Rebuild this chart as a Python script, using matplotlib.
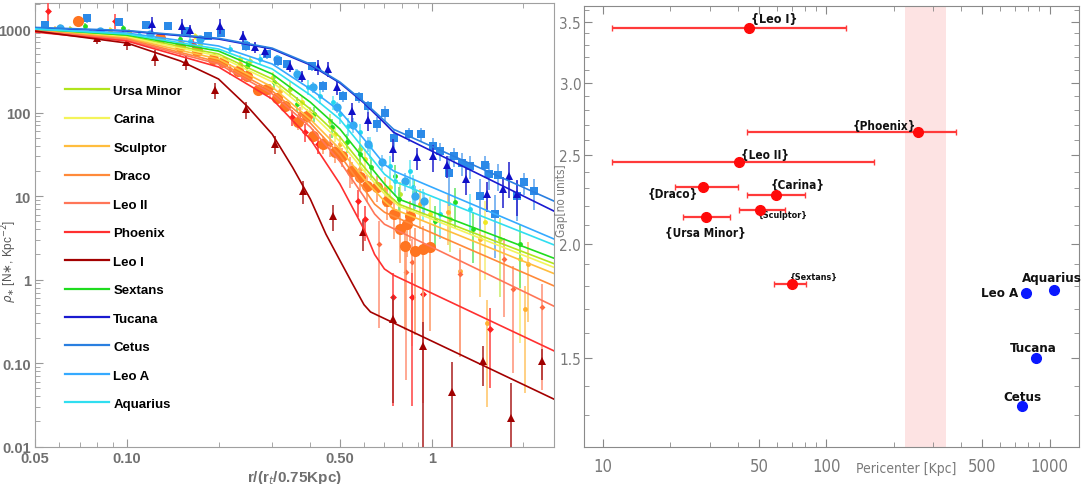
import numpy as np
import matplotlib
matplotlib.use('Agg')
import matplotlib.pyplot as plt
from matplotlib.ticker import FixedLocator, FixedFormatter, NullFormatter

# ---- left panel: surface density profiles ----
galaxies = ['Ursa Minor', 'Carina', 'Sculptor', 'Draco', 'Leo II', 'Phoenix',
            'Leo I', 'Sextans', 'Tucana', 'Cetus', 'Leo A', 'Aquarius']

ursa_r = [0.0652, 0.102, 0.174, 0.2535, 0.343, 0.4634, 0.581, 0.787, 1.148, 1.674]
ursa_rho = [1000, 920, 661, 414, 191, 79, 36.6, 10.6, 5.3, 3.06]
ursa_e = [0.1, 0.1, 0.12, 0.15, 0.2, 0.2, 0.3, 0.4, 0.6, 0.8]

carina_r = [0.0604, 0.0881, 0.1674, 0.235, 0.301, 0.375, 0.4816, 0.604, 0.73, 0.986, 1.494, 1.945]
carina_rho = [1057, 973, 824, 437, 266, 133, 55.3, 27.8, 12.9, 6.1, 4.9, 1.76]
carina_e = [0.1, 0.1, 0.1, 0.12, 0.15, 0.2, 0.2, 0.3, 0.4, 0.6, 0.8, 0.9]

sculptor_r = [0.0582, 0.0817, 0.1285, 0.174, 0.235, 0.318, 0.399, 0.5, 0.581, 0.703, 0.914,
              1.13, 1.236, 1.438, 1.517, 2.02, 2.07]
sculptor_rho = [1000, 920, 759, 576, 381, 181, 96, 42, 21.1, 12.2, 8.0, 6.4, 1.27, 3.06, 0.30, 0.44, 1.55]
sculptor_e = [0.1, 0.1, 0.1, 0.12, 0.12, 0.15, 0.2, 0.25, 0.3, 0.4, 0.5, 0.6, 0.9, 0.8, 0.9, 0.9, 0.8]

draco_r = [0.0692, 0.1285, 0.1494, 0.170, 0.1917, 0.2065, 0.2315, 0.248, 0.269, 0.288, 0.311,
           0.330, 0.364, 0.390, 0.408, 0.44, 0.4816, 0.508, 0.547, 0.581, 0.613, 0.661, 0.713,
           0.752, 0.787, 0.830, 0.848, 0.817, 0.881, 0.935, 0.986]
draco_rho = [1247, 780, 625, 545, 437, 403, 314, 274, 186, 191, 149, 120, 77, 91, 52.4, 42, 33.6,
             30.1, 19.9, 16.9, 13.2, 12.9, 8.7, 6.1, 4.0, 4.6, 5.8, 2.5, 2.2, 2.3, 2.45]
draco_e = [0.08, 0.1, 0.1, 0.1, 0.1, 0.1, 0.12, 0.12, 0.12, 0.12, 0.15, 0.15, 0.2, 0.2, 0.2, 0.25,
           0.25, 0.25, 0.3, 0.3, 0.35, 0.35, 0.4, 0.5, 0.6, 0.6, 0.5, 0.9, 0.9, 0.9, 0.9]

leo2_r = [0.0604, 0.102, 0.1494, 0.218, 0.2948, 0.370, 0.4634, 0.540, 0.671, 0.822, 0.861, 1.236,
          1.725, 1.846, 2.30]
leo2_rho = [946, 759, 545, 332, 181, 96, 42, 21.1, 2.66, 1.24, 1.62, 1.18, 1.76, 0.77, 0.47]
leo2_e = [0.1, 0.1, 0.12, 0.15, 0.2, 0.2, 0.3, 0.4, 0.9, 0.95, 0.9, 0.9, 0.8, 0.9, 0.9]

phoenix_r = [0.0552, 0.0914, 0.165, 0.2385, 0.348, 0.384, 0.424, 0.573, 0.604, 0.746, 0.861, 0.935, 1.552]
phoenix_rho = [1643, 1247, 661, 305, 88, 58.6, 42, 8.7, 5.3, 0.62, 0.62, 0.67, 0.255]
phoenix_e = [0.25, 0.2, 0.15, 0.2, 0.22, 0.25, 0.25, 0.35, 0.45, 0.95, 0.95, 0.95, 0.8]

leo1_r = [0.0796, 0.1, 0.1236, 0.156, 0.1944, 0.246, 0.306, 0.379, 0.474, 0.594, 0.747, 0.935,
          1.17, 1.47, 1.82, 2.3]
leo1_rho = [780, 698, 462, 402, 186, 110, 42, 11.5, 5.8, 3.7, 0.336, 0.16, 0.045, 0.106, 0.022, 0.106]
leo1_e = [0.15, 0.19, 0.22, 0.2, 0.22, 0.23, 0.24, 0.3, 0.35, 0.4, 0.9, 0.95, 1.3, 0.5, 1.6, 0.4]

sextans_r = [0.073, 0.0972, 0.1494, 0.248, 0.304, 0.361, 0.411, 0.471, 0.527, 0.581, 0.632, 0.757,
             0.78, 0.874, 1.024, 1.19, 1.365, 1.945]
sextans_rho = [1086, 1028, 759, 361, 232, 127, 96, 67, 44.2, 31.8, 22.3, 17.4, 9.2, 11.2, 5.0, 8.4, 4.0, 2.66]
sextans_e = [0.1, 0.1, 0.12, 0.15, 0.2, 0.2, 0.2, 0.25, 0.25, 0.3, 0.3, 0.35, 0.4, 0.4, 0.5, 0.5, 0.6, 0.7]

tucana_r = [0.1209, 0.1517, 0.161, 0.202, 0.2405, 0.263, 0.284, 0.343, 0.375, 0.424, 0.457, 0.489,
            0.547, 0.618, 0.746, 0.893, 1.009, 1.122, 1.295, 1.517, 1.71, 1.79, 1.90]
tucana_rho = [1148, 1086, 973, 1086, 824, 608, 545, 361, 274, 351, 332, 202, 104, 81, 36.6, 29.3,
              30.1, 23.5, 16.0, 10.6, 12.1, 17.4, 10.6]
tucana_e = [0.2, 0.2, 0.15, 0.2, 0.15, 0.15, 0.15, 0.15, 0.15, 0.2, 0.2, 0.2, 0.25, 0.25, 0.3, 0.3,
            0.35, 0.3, 0.35, 0.4, 0.4, 0.45, 0.45]

cetus_r = [0.054, 0.074, 0.094, 0.116, 0.137, 0.155, 0.185, 0.204, 0.246, 0.288, 0.313, 0.335, 0.405,
           0.44, 0.512, 0.577, 0.618, 0.661, 0.703, 0.752, 0.841, 0.922, 1.009, 1.064, 1.183, 1.256,
           1.334, 1.138, 1.494, 1.54, 1.648, 1.438, 1.61, 1.90, 2.005, 2.163]
cetus_rho = [1116, 1354, 1213, 1116, 1086, 946, 824, 896, 625, 502, 414, 381, 361, 208, 158, 153, 120,
             73, 99, 50, 55, 55, 40, 35, 30, 25, 23, 19, 23.5, 18.3, 17.8, 10, 6.1, 10, 14.7, 11.5]
cetus_e = [0.1, 0.12, 0.1, 0.1, 0.1, 0.1, 0.1, 0.1, 0.12, 0.12, 0.12, 0.12, 0.12, 0.15, 0.15, 0.15,
           0.15, 0.2, 0.2, 0.25, 0.2, 0.2, 0.25, 0.25, 0.25, 0.3, 0.3, 0.6, 0.3, 0.35, 0.35, 0.6, 0.7,
           0.5, 0.3, 0.4]

leoa_r = [0.0604, 0.0817, 0.119, 0.174, 0.244, 0.311, 0.361, 0.408, 0.489, 0.551, 0.618, 0.687,
          0.817, 0.881, 0.942]
leoa_rho = [1028, 946, 871, 759, 661, 437, 289, 202, 116, 71, 42, 25.6, 15.2, 10.1, 8.7]
leoa_e = [0.1, 0.1, 0.1, 0.1, 0.12, 0.12, 0.15, 0.15, 0.15, 0.2, 0.2, 0.2, 0.25, 0.3, 0.3]

aquarius_r = [0.0757, 0.110, 0.161, 0.218, 0.273, 0.359, 0.393, 0.430, 0.474, 0.5, 0.531, 0.582,
              0.627, 0.730, 0.757, 0.848, 0.867, 0.935, 1.064, 1.334]
aquarius_rho = [920, 847, 719, 576, 437, 289, 202, 158, 133, 96, 69, 58.6, 39.7, 22.9, 15.2, 20,
                12.9, 8.7, 6.1, 7.0]
aquarius_e = [0.1, 0.1, 0.12, 0.12, 0.15, 0.15, 0.2, 0.2, 0.2, 0.25, 0.25, 0.25, 0.3, 0.3, 0.35,
              0.35, 0.4, 0.4, 0.5, 0.5]

# fitted profiles
fit_r = [0.05, 0.1, 0.2, 0.3, 0.4, 0.5, 0.6, 0.7, 0.75, 2.52]
fit_r_late = [0.05, 0.1, 0.2, 0.3, 0.4, 0.5, 0.6, 0.7, 0.78, 2.52]
fit_r_early = [0.05, 0.1, 0.2, 0.3, 0.4, 0.5, 0.6, 0.65, 0.7, 2.52]
phoenix_fit_r = [0.05, 0.1, 0.2, 0.3, 0.4, 0.5, 0.6, 0.65, 0.7, 0.75, 2.52]
leo1_fit_r = [0.05, 0.1, 0.15, 0.2, 0.25, 0.3, 0.35, 0.4, 0.45, 0.5, 0.55, 0.6, 0.63, 2.52]

ursa_fit = [1000, 825, 502, 252, 110, 51, 22.3, 11.5, 8.0, 1.55]
carina_fit = [973, 802, 475, 232, 99, 45, 20, 10.6, 7.6, 1.4]
sculptor_fit = [973, 780, 437, 202, 83, 36.6, 16, 8.7, 7.0, 1.18]
draco_fit = [946, 759, 403, 181, 75, 31, 12.2, 8.0, 6.4, 0.84]
leo2_fit = [946, 738, 381, 167, 67, 26, 9.8, 6.1, 4.6, 0.48]
phoenix_fit = [920, 719, 351, 145, 48, 14, 4.0, 2.0, 1.34, 1.13, 0.14]
leo1_fit = [946, 680, 414, 252, 116, 55, 22, 9.2, 3.5, 1.7, 0.89, 0.5, 0.41, 0.037]
sextans_fit = [1000, 847, 545, 289, 133, 63.6, 27.8, 14, 9.2, 1.8]
tucana_fit = [1028, 946, 759, 576, 371, 226, 130, 75, 58, 6.6]
cetus_fit = [1045, 960, 775, 590, 380, 232, 134, 80, 63, 8.7]
leoa_fit = [1000, 896, 626, 381, 191, 104, 48, 24, 20, 3.06]
aquarius_fit = [1000, 871, 576, 332, 162, 83, 36.6, 18.3, 15.1, 2.6]

# ---- right panel: gap vs pericenter ----
sat_names = ['{Leo I}', '{Phoenix}', '{Leo II}', '{Draco}', '{Carina}', '{Sculptor}',
             '{Ursa Minor}', '{Sextans}']
sat_peri = [45, 257, 40.6, 27.9, 59.6, 50.4, 28.8, 70.3]
sat_peri_lo = [11, 44, 11, 20.9, 44, 40.6, 22.9, 58]
sat_peri_hi = [123, 381, 163, 40, 80, 65.3, 37, 81]
sat_gap = [3.44, 2.65, 2.46, 2.31, 2.26, 2.18, 2.14, 1.81]

iso_names = ['Leo A', 'Aquarius', 'Tucana', 'Cetus']
iso_peri = [780, 1042, 865, 755]
iso_gap = [1.77, 1.78, 1.50, 1.33]

band_lo = 225
band_hi = 345

colors = {'Ursa Minor': '#b0e41c', 'Carina': '#f4f45a', 'Sculptor': '#ffbd3e', 'Draco': '#ff8a3a',
          'Leo II': '#ff7658', 'Phoenix': '#ff3030', 'Leo I': '#a30000', 'Sextans': '#1fdc1f',
          'Tucana': '#1a1ad0', 'Cetus': '#2a7fe0', 'Leo A': '#35aaff', 'Aquarius': '#30def0'}

GREY = '#707070'


def err_bars(rho, e):
    rho = np.array(rho)
    e = np.array(e)
    hi = rho * e
    lo = np.minimum(rho * e, rho * (1 - 1 / 25.))
    return [lo, hi]


def draw_points(ax, r, rho, e, color, marker, ms, ecolor, z):
    ax.errorbar(r, rho, yerr=err_bars(rho, e), fmt=marker, color=color, ms=ms, mew=0,
                ecolor=ecolor, elinewidth=1.2, capsize=1.5, capthick=0.8, zorder=z)


def left_panel(ax):
    pts = [
        (ursa_r, ursa_rho, ursa_e, '#b8e830', 'o', 3.5, '#cdee70'),
        (carina_r, carina_rho, carina_e, '#f0e820', 'o', 3.5, '#f6ef80'),
        (sculptor_r, sculptor_rho, sculptor_e, '#ffb030', 'o', 3.5, '#ffc870'),
        (sextans_r, sextans_rho, sextans_e, '#22dd22', 'o', 3.5, '#70e870'),
        (leo2_r, leo2_rho, leo2_e, '#ff6a40', 'D', 3, '#ff9a80'),
        (phoenix_r, phoenix_rho, phoenix_e, '#ff2020', 'D', 3.5, '#ff5050'),
        (aquarius_r, aquarius_rho, aquarius_e, '#22d8ee', 'o', 3.5, '#70e8f4'),
        (leoa_r, leoa_rho, leoa_e, '#33aaf0', 'o', 6, '#80c8f8'),
        (cetus_r, cetus_rho, cetus_e, '#2b8ae8', 's', 6, '#6aaaf0'),
        (tucana_r, tucana_rho, tucana_e, '#1010c8', '^', 6, '#3030d0'),
        (draco_r, draco_rho, draco_e, '#ff7420', 'o', 8, '#ffa070'),
        (leo1_r, leo1_rho, leo1_e, '#a00000', '^', 6, '#b03030'),
    ]
    z = 2
    for r, rho, e, c, m, ms, ec in pts:
        draw_points(ax, r, rho, e, c, m, ms, ec, z)
        z += 0.1

    fits = {'Ursa Minor': (fit_r_late, ursa_fit), 'Carina': (fit_r_late, carina_fit),
            'Sculptor': (fit_r, sculptor_fit), 'Draco': (fit_r_early, draco_fit),
            'Leo II': (fit_r_early, leo2_fit), 'Phoenix': (phoenix_fit_r, phoenix_fit),
            'Leo I': (leo1_fit_r, leo1_fit), 'Sextans': (fit_r_late, sextans_fit),
            'Tucana': (fit_r, tucana_fit), 'Cetus': (fit_r, cetus_fit),
            'Leo A': (fit_r, leoa_fit), 'Aquarius': (fit_r, aquarius_fit)}
    handles = []
    for g in galaxies:
        fr, fy = fits[g]
        ln, = ax.plot(fr, fy, color=colors[g], lw=1.2, zorder=4, label=g)
        handles.append(ln)

    leg = ax.legend(handles=handles, loc='upper left', bbox_to_anchor=(0.058, 0.816),
                    frameon=False, borderpad=0, borderaxespad=0, handlelength=3.3,
                    handletextpad=0.35, labelspacing=1.23,
                    prop={'family': 'Liberation Sans', 'weight': 'bold', 'size': 9.5})
    for ln in leg.get_lines():
        ln.set_linewidth(1.6)

    ax.set_xscale('log')
    ax.set_yscale('log')
    ax.set_xlim(0.05, 2.52)
    ax.set_ylim(0.0099, 2050)
    ax.xaxis.set_major_locator(FixedLocator([0.05, 0.1, 0.5, 1]))
    ax.xaxis.set_major_formatter(FixedFormatter(['0.05', '0.10', '0.50', '1']))
    ax.xaxis.set_minor_locator(FixedLocator([0.06, 0.07, 0.08, 0.09, 0.2, 0.3, 0.4, 0.6, 0.7,
                                             0.8, 0.9, 2]))
    ax.xaxis.set_minor_formatter(NullFormatter())
    ax.yaxis.set_major_locator(FixedLocator([0.01, 0.1, 1, 10, 100, 1000]))
    ax.yaxis.set_major_formatter(FixedFormatter(['0.01', '0.10', '1', '10', '100', '1000']))
    ax.yaxis.set_minor_locator(FixedLocator([k * 10.0 ** d for d in range(-2, 4) for k in range(2, 10)]))
    ax.yaxis.set_minor_formatter(NullFormatter())
    ax.tick_params(which='both', direction='in', top=True, right=False, color='#999999')
    ax.tick_params(which='major', length=6, pad=3)
    ax.tick_params(which='minor', length=3.5)
    for lab in ax.get_xticklabels() + ax.get_yticklabels():
        lab.set_family('Liberation Sans')
        lab.set_weight('bold')
        lab.set_size(10.5)
        lab.set_color(GREY)
    for s in ax.spines.values():
        s.set_color('#a0a0a0')

    ax.set_xlabel(r'r/(r$_t$/0.75Kpc)', fontsize=11, fontweight='bold', color=GREY,
                  family='Liberation Sans', labelpad=2)
    ax.set_ylabel(r'$\rho_{\ast}$ [N$\ast$, Kpc$^{-2}$]', fontsize=8.5, color='#555555',
                  family='Liberation Sans')
    ax.yaxis.set_label_coords(-0.031, 0.42)


def right_panel(ax):
    cond = {'family': 'DejaVu Sans', 'stretch': 'condensed'}
    ax.axvspan(band_lo, band_hi, color='#fde3e3', lw=0, zorder=0)

    peri = np.array(sat_peri)
    ax.errorbar(peri, sat_gap, xerr=[peri - np.array(sat_peri_lo), np.array(sat_peri_hi) - peri],
                fmt='o', color='#ff0a0a', ms=7, ecolor='#ff3a3a', elinewidth=1.6, capsize=2,
                capthick=1, zorder=3)
    ax.plot(iso_peri, iso_gap, 'o', color='#0a18ff', ms=7, zorder=3)

    # label offsets in pixels
    sat_off = [(2, 10, 'left', 9), (-2, 7, 'right', 8.5), (2, 7, 'left', 8.5), (-5, -7, 'right', 8.5),
               (-6, 11, 'left', 8.5), (-2, -5, 'left', 6.5), (0, -15, 'center', 8.5), (-2, 7, 'left', 6.5)]
    for name, x, y, (dx, dy, ha, fs) in zip(sat_names, sat_peri, sat_gap, sat_off):
        ax.annotate(name, (x, y), xytext=(dx, dy), textcoords='offset pixels', ha=ha,
                    va='center', fontsize=fs, fontweight='bold', color='#111111', **cond)
    iso_off = [(-7, 0, 'right'), (-2, 13, 'center'), (-2, 11, 'center'), (0, 10, 'center')]
    for name, x, y, (dx, dy, ha) in zip(iso_names, iso_peri, iso_gap, iso_off):
        ax.annotate(name, (x, y), xytext=(dx, dy), textcoords='offset pixels', ha=ha,
                    va='center', fontsize=9.5, fontweight='bold', color='#111111', **cond)

    ax.set_xscale('log')
    ax.set_yscale('log')
    ax.set_xlim(8.21, 1352)
    ax.set_ylim(1.2, 3.64)
    ax.xaxis.set_major_locator(FixedLocator([10, 50, 100, 500, 1000]))
    ax.xaxis.set_major_formatter(FixedFormatter(['10', '50', '100', '500', '1000']))
    ax.xaxis.set_minor_locator(FixedLocator([20, 30, 40, 60, 70, 80, 90, 200, 300, 400, 600, 700,
                                             800, 900]))
    ax.xaxis.set_minor_formatter(NullFormatter())
    ax.yaxis.set_major_locator(FixedLocator([1.5, 2.0, 2.5, 3.0, 3.5]))
    ax.yaxis.set_major_formatter(FixedFormatter(['1.5', '2.0', '2.5', '3.0', '3.5']))
    ax.yaxis.set_minor_locator(FixedLocator([v / 10.0 for v in range(13, 37) if v % 5]))
    ax.yaxis.set_minor_formatter(NullFormatter())
    ax.tick_params(which='both', direction='in', top=True, right=True, color='#888888')
    ax.tick_params(which='major', length=6)
    ax.tick_params(which='minor', length=3.5)
    ax.tick_params(axis='x', which='major', pad=7)
    ax.tick_params(axis='y', which='major', pad=2)
    for lab in ax.get_xticklabels():
        lab.set_family(cond['family'])
        lab.set_stretch(cond['stretch'])
        lab.set_size(12)
        lab.set_color('#7a7a7a')
    for lab in ax.get_yticklabels():
        lab.set_family(cond['family'])
        lab.set_stretch(cond['stretch'])
        lab.set_size(11)
        lab.set_color('#7a7a7a')
    for s in ax.spines.values():
        s.set_color('#8a8a8a')

    ax.text(0.652, -0.047, 'Pericenter [Kpc]', transform=ax.transAxes, ha='center', va='center',
            fontsize=10, color='#7a7a7a', **cond)
    ax.text(-0.045, 0.56, 'Gap[no units]', transform=ax.transAxes, rotation=90, ha='center',
            va='center', fontsize=8.5, color='#7a7a7a', **cond)


def run():
    fig = plt.figure(figsize=(10.84, 4.85), dpi=100)
    ax1 = fig.add_axes([0.0323, 0.0763, 0.4788, 0.9155])
    ax2 = fig.add_axes([0.5387, 0.0763, 0.4566, 0.9093])
    left_panel(ax1)
    right_panel(ax2)
    fig.savefig('out.png', dpi=100)


if __name__ == '__main__':
    run()
